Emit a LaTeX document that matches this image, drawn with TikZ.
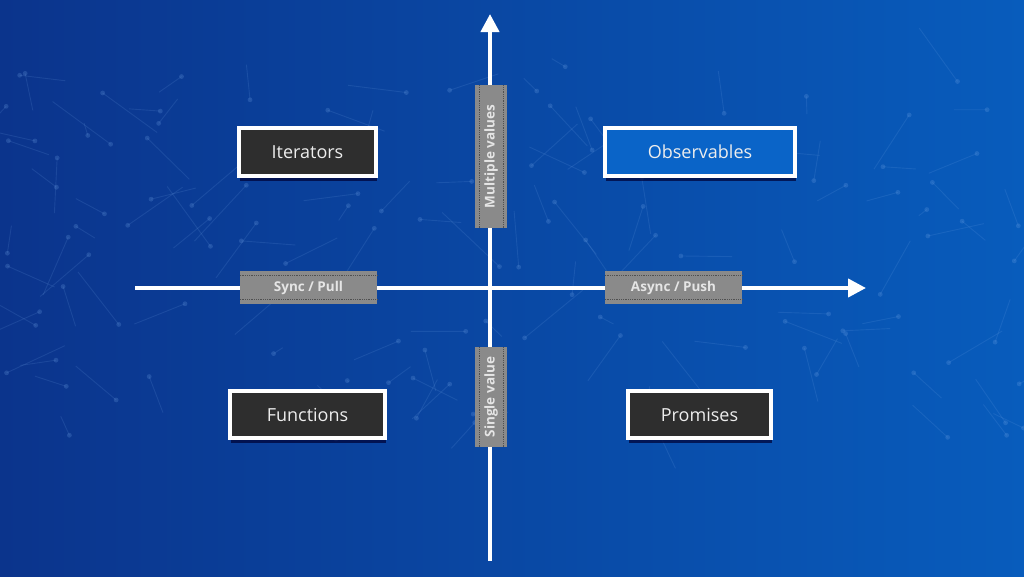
\documentclass[tikz,border=0pt]{standalone}
\usepackage{fontspec}
\setsansfont{Open Sans}
\usepackage{tikz}
\usetikzlibrary{positioning, arrows.meta, calc, shadows}

\definecolor{bgleft}{RGB}{11,52,140}
\definecolor{bgright}{RGB}{8,92,188}
\definecolor{darkbox}{RGB}{46,46,46}
\definecolor{bluebox}{RGB}{10,100,200}
\definecolor{tagfill}{RGB}{138,138,138}
\definecolor{tagdots}{RGB}{80,80,80}
\definecolor{netline}{RGB}{120,170,235}

\begin{document}
\begin{tikzpicture}[
  x=1pt, y=-1pt,
  font=\sffamily,
  quad/.style={draw=white, line width=4pt, fill=darkbox, text=white!93!black,
    minimum height=48pt, inner sep=0pt,
    font=\sffamily\fontsize{18}{21}\selectfont,
    drop shadow={opacity=0.7, fill=black!80!blue, shadow xshift=1pt, shadow yshift=-5pt}},
  tag/.style={fill=tagfill, text=white!90!black, inner sep=0pt,
    minimum height=33pt, font=\sffamily\bfseries\fontsize{13.5}{16}\selectfont},
  axis/.style={draw=white, line width=4pt,
    -{Triangle[length=18pt, width=18pt]}},
  dots/.style={draw=tagdots, densely dotted, line width=0.8pt},
  net/.style={draw=netline, opacity=0.15, line width=0.9pt},
]
  % background
  \shade[left color=bgleft, right color=bgright] (0,0) rectangle (1024,576);
  \useasboundingbox (0,0) rectangle (1024,576);

  % faint network in the background
  \pgfmathsetseed{42}
  \foreach \i in {1,...,130} {
    \pgfmathsetmacro\ax{rnd*1024}
    \pgfmathsetmacro\ay{60+rnd*380}
    \pgfmathsetmacro\bx{\ax+rnd*120-60}
    \pgfmathsetmacro\by{\ay+rnd*120-60}
    \draw[net] (\ax,\ay) -- (\bx,\by);
    \fill[netline, opacity=0.22] (\ax,\ay) circle (2.4pt);
  }

  % axes
  \coordinate (xl) at (135,288);
  \coordinate (xr) at (866,288);
  \coordinate (yb) at (490,561);
  \coordinate (yt) at (490,14);
  \draw[axis] (xl) -- (xr);
  \draw[axis] (yb) -- (yt);

  % axis labels
  \node[tag, minimum width=137pt] (sync)  at (308.5,287.5) {Sync / Pull};
  \node[tag, minimum width=137pt] (async) at (673.5,287.5) {Async / Push};
  \node[tag, minimum width=143pt, minimum height=32pt, rotate=90] (multi)  at (491,156.5) {Multiple values};
  \node[tag, minimum width=100pt, minimum height=32pt, rotate=90] (single) at (491,397) {Single value};
  \foreach \n in {sync, async, multi, single} {
    \draw[dots] ($(\n.north west)!0.13!(\n.south west)$) -- ($(\n.north east)!0.13!(\n.south east)$);
    \draw[dots] ($(\n.south west)!0.13!(\n.north west)$) -- ($(\n.south east)!0.13!(\n.north east)$);
  }

  % quadrants
  \node[quad, minimum width=137pt] (iter) at (307.5,152) {Iterators};
  \node[quad, minimum width=190pt, fill=bluebox] (obs) at (700,152) {Observables};
  \node[quad, minimum width=155pt, minimum height=47pt] (func) at (307.5,414.5) {Functions};
  \node[quad, minimum width=143pt, minimum height=47pt] (prom) at (699.5,414.5) {Promises};
\end{tikzpicture}
\end{document}
